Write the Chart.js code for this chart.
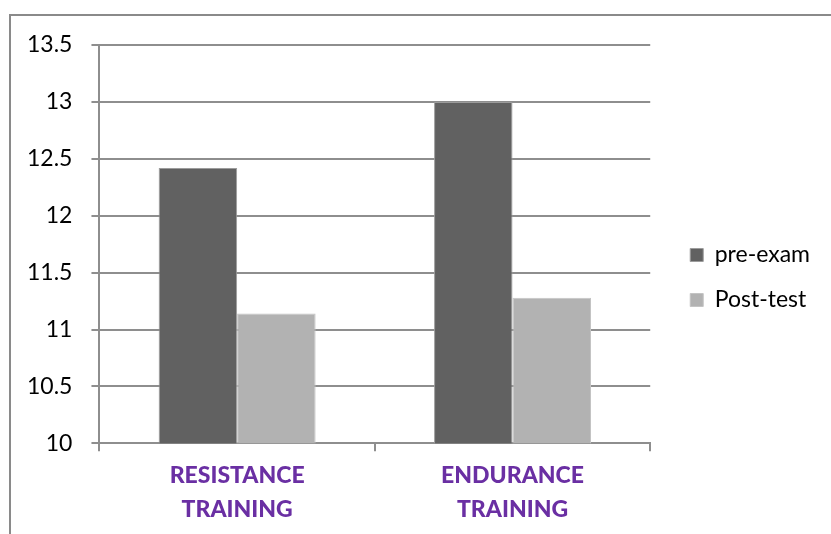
<!DOCTYPE html>
<html>
<head>
<meta charset="utf-8">
<script src="https://cdn.jsdelivr.net/npm/chart.js@4.4.1/dist/chart.umd.min.js"></script>
<style>
  html, body { margin: 0; padding: 0; background: #ffffff; }
  #wrap { width: 831px; height: 534px; position: relative; }
</style>
</head>
<body>
<div id="wrap"><canvas id="chart" width="831" height="534"></canvas></div>
<script>
// Training groups and scores
const categories = [['RESISTANCE', 'TRAINING'], ['ENDURANCE', 'TRAINING']];
const preExam = [12.42, 13.0];
const postTest = [11.14, 11.28];
const seriesNames = ['pre-exam', 'Post-test'];
const yTicks = ['10', '10.5', '11', '11.5', '12', '12.5', '13', '13.5'];

const GRID = '#8e8e8e';

// Frame lines along the left and top edges of the figure
const framePlugin = {
  id: 'frame',
  beforeDraw(chart) {
    const ctx = chart.ctx;
    ctx.save();
    ctx.strokeStyle = '#8a8a8a';
    ctx.lineWidth = 2;
    ctx.beginPath();
    ctx.moveTo(10, 534);
    ctx.lineTo(10, 15);
    ctx.lineTo(831, 15);
    ctx.stroke();
    ctx.restore();
  }
};

// Nudge the legend block away from the plot and up a little
const legendOffset = { dx: 18, dy: -12 };
const legendShiftPlugin = {
  id: 'legendShift',
  afterLayout(chart) {
    const lg = chart.legend;
    if (!lg) return;
    lg.left += legendOffset.dx; lg.right += legendOffset.dx;
    lg.top += legendOffset.dy; lg.bottom += legendOffset.dy;
  }
};

new Chart(document.getElementById('chart'), {
  type: 'bar',
  data: {
    labels: categories,
    datasets: [
      { label: seriesNames[0], data: preExam, backgroundColor: '#616161', borderColor: '#9c9c9c', borderWidth: 1 },
      { label: seriesNames[1], data: postTest, backgroundColor: '#b2b2b2', borderColor: '#c4c4c4', borderWidth: 1 }
    ]
  },
  plugins: [framePlugin, legendShiftPlugin],
  options: {
    responsive: false,
    animation: false,
    layout: { padding: { left: 8, top: 45, right: 29, bottom: 0 } },
    datasets: { bar: { categoryPercentage: 0.57, barPercentage: 1.0 } },
    plugins: {
      legend: {
        position: 'right',
        align: 'center',
        labels: {
          font: { family: 'Lato', size: 23 },
          color: '#000000',
          boxWidth: 13,
          boxHeight: 13,
          padding: 22
        }
      },
      tooltip: { enabled: false }
    },
    scales: {
      y: {
        min: 10,
        max: 13.5,
        ticks: {
          stepSize: 0.5,
          padding: 19,
          color: '#000000',
          font: { family: 'Lato', size: 23 },
          callback: (v, i) => yTicks[i]
        },
        grid: { color: GRID, lineWidth: 2, tickLength: 8, drawTicks: true },
        border: { display: true, color: GRID, width: 2 }
      },
      x: {
        ticks: {
          color: '#6a2fa3',
          padding: 8,
          font: { family: 'Lato', size: 23, weight: 900, lineHeight: 1.45 }
        },
        grid: { offset: true, drawOnChartArea: false, color: GRID, lineWidth: 2, tickLength: 8 },
        border: { display: true, color: GRID, width: 2 }
      }
    }
  }
});
</script>
</body>
</html>
